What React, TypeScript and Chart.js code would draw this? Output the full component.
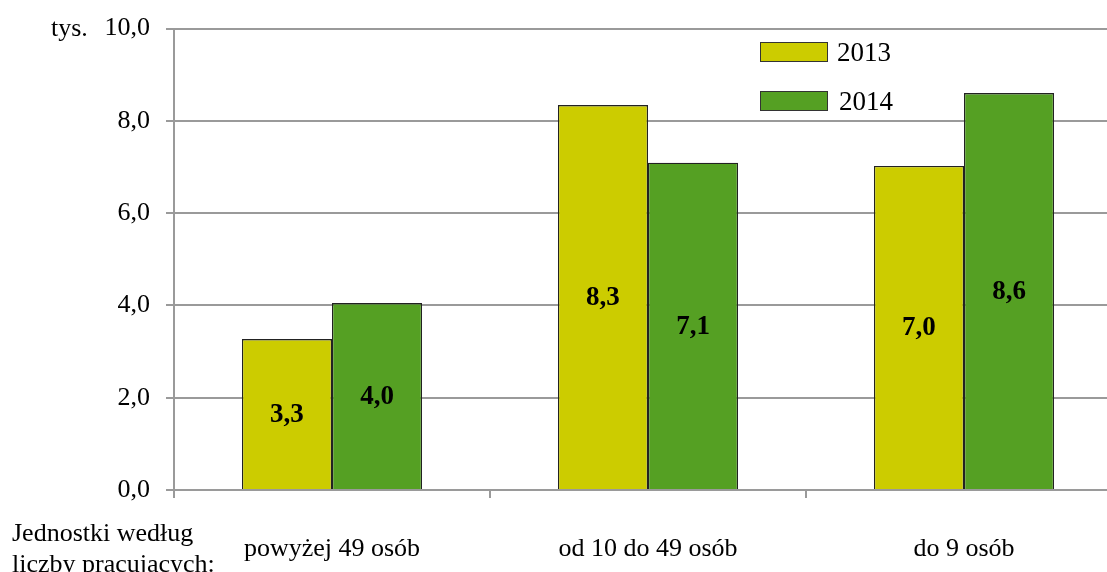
import React, { useEffect, useRef } from "react";
import { Chart, registerables } from "chart.js";

Chart.register(...registerables);

const categories = ["powyżej 49 osób", "od 10 do 49 osób", "do 9 osób"];
const seriesNames = ["2013", "2014"];
const values2013 = [3.27, 8.34, 7.02];
const values2014 = [4.05, 7.09, 8.6];
const labels2013 = ["3,3", "8,3", "7,0"];
const labels2014 = ["4,0", "7,1", "8,6"];
const yTicks = [0, 2, 4, 6, 8, 10];

const YELLOW = "#CCCC00";
const GREEN = "#55A023";
const GRID = "#9a9a9a";
const SERIF = "'Liberation Serif', 'Times New Roman', serif";

const extrasPlugin = {
  id: "extras",
  afterDatasetsDraw(chart: any) {
    const ctx = chart.ctx;
    ctx.save();
    // value labels
    ctx.fillStyle = "#000";
    ctx.font = `bold 27px ${SERIF}`;
    ctx.textAlign = "center";
    ctx.textBaseline = "middle";
    const allLabels = [labels2013, labels2014];
    chart.data.datasets.forEach((ds: any, di: number) => {
      const meta = chart.getDatasetMeta(di);
      meta.data.forEach((bar: any, i: number) => {
        const mid = (bar.y + bar.base) / 2;
        ctx.fillText(allLabels[di][i], bar.x, mid + 1);
      });
    });
    // legend
    const colors = [YELLOW, GREEN];
    const boxTops = [42, 91];
    ctx.font = `27px ${SERIF}`;
    ctx.textAlign = "left";
    seriesNames.forEach((name, i) => {
      ctx.fillStyle = colors[i];
      ctx.fillRect(760, boxTops[i], 67, 19);
      ctx.strokeStyle = "#333";
      ctx.lineWidth = 1;
      ctx.strokeRect(760.5, boxTops[i] + 0.5, 67, 19);
      ctx.fillStyle = "#000";
      ctx.fillText(name, 837 + i * 2, boxTops[i] + 12);
    });
    // unit
    ctx.font = `26px ${SERIF}`;
    ctx.fillText("tys.", 51, 29);
    // axis title lines
    ctx.textBaseline = "alphabetic";
    ctx.font = `26px ${SERIF}`;
    ctx.fillText("Jednostki według", 12, 541);
    ctx.fillText("liczby pracujących:", 12, 572);
    ctx.restore();
  },
};

export default function App() {
  const ref = useRef<HTMLCanvasElement | null>(null);
  useEffect(() => {
    document.body.style.margin = "0";
    document.body.style.overflow = "hidden";
    const chart = new Chart(ref.current as HTMLCanvasElement, {
      type: "bar",
      data: {
        labels: categories,
        datasets: [
          {
            label: seriesNames[0],
            data: values2013,
            backgroundColor: YELLOW,
            borderColor: "#222",
            borderWidth: 1.3,
            categoryPercentage: 0.57,
            barPercentage: 1.0,
          },
          {
            label: seriesNames[1],
            data: values2014,
            backgroundColor: GREEN,
            borderColor: "#222",
            borderWidth: 1.3,
            categoryPercentage: 0.57,
            barPercentage: 1.0,
          },
        ],
      },
      options: {
        animation: false,
        responsive: false,
        maintainAspectRatio: false,
        layout: { padding: { top: 28.5, right: 0, left: 0, bottom: 0 } },
        plugins: {
          legend: { display: false },
          tooltip: { enabled: false },
        },
        scales: {
          x: {
            grid: {
              display: true,
              drawOnChartArea: false,
              drawTicks: true,
              tickLength: 8,
              color: GRID,
              lineWidth: 2,
            },
            border: { display: true, color: GRID, width: 2 },
            ticks: {
              color: "#000",
              font: { family: SERIF, size: 26 },
              padding: 36,
              maxRotation: 0,
            },
            afterFit(scale: any) {
              scale.height = 82;
              scale.paddingLeft = 0;
              scale.paddingRight = 0;
            },
          },
          y: {
            min: 0,
            max: 10,
            afterBuildTicks(scale: any) {
              scale.ticks = yTicks.map((v) => ({ value: v }));
            },
            grid: {
              color: GRID,
              lineWidth: 2,
              drawTicks: true,
              tickLength: 8,
            },
            border: { display: true, color: GRID, width: 2 },
            ticks: {
              color: "#000",
              font: { family: SERIF, size: 26 },
              padding: 16,
              callback: (v: any) => Number(v).toFixed(1).replace(".", ","),
            },
            afterFit(scale: any) {
              scale.width = 174;
              scale.paddingTop = 0;
              scale.paddingBottom = 0;
            },
          },
        },
      },
      plugins: [extrasPlugin],
    } as any);
    return () => chart.destroy();
  }, []);
  return (
    <div style={{ position: "absolute", left: 0, top: 0, width: 1122, height: 572, overflow: "hidden" }}>
      <canvas ref={ref} width={1122} height={572} style={{ width: 1122, height: 572 }} />
    </div>
  );
}
